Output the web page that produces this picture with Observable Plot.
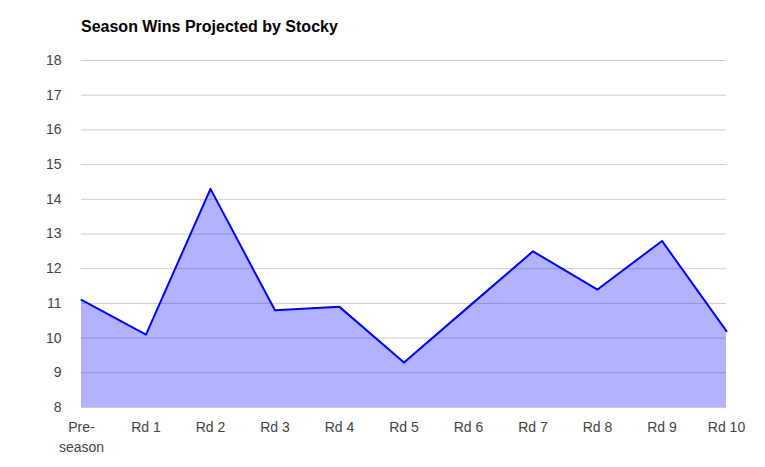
<!DOCTYPE html>
<html>
<head>
<meta charset="utf-8">
<script src="https://cdn.jsdelivr.net/npm/d3@7"></script>
<script src="https://cdn.jsdelivr.net/npm/@observablehq/plot@0.6"></script>
<style>
  html, body { margin: 0; padding: 0; background: #fff; }
  #wrap { position: relative; width: 765px; height: 467px; }
  #title { position: absolute; left: 81px; top: 18px; font: bold 16px "Liberation Sans", Arial, sans-serif; color: #000; }
</style>
</head>
<body>
<div id="wrap">
  <div id="title">Season Wins Projected by Stocky</div>
</div>
<script>
const rounds = ["Pre-\nseason", "Rd 1", "Rd 2", "Rd 3", "Rd 4", "Rd 5", "Rd 6", "Rd 7", "Rd 8", "Rd 9", "Rd 10"];
const wins = [11.1, 10.1, 14.3, 10.8, 10.9, 9.3, 10.9, 12.5, 11.4, 12.8, 10.2];
const yTicks = [8, 9, 10, 11, 12, 13, 14, 15, 16, 17, 18];

const data = rounds.map((r, i) => ({i, round: r, wins: wins[i]}));

const chart = Plot.plot({
  width: 765,
  height: 467,
  marginLeft: 81,
  marginRight: 39,
  marginTop: 60,
  marginBottom: 60,
  style: {fontFamily: "'Liberation Sans', Arial, sans-serif", fontSize: "14px", color: "#444", background: "#fff"},
  x: {domain: [0, rounds.length - 1], label: null},
  y: {domain: [8, 18], label: null},
  marks: [
    Plot.ruleY(yTicks, {stroke: "#cccccc", strokeWidth: 1}),
    Plot.areaY(data, {x: "i", y1: 8, y2: "wins", fill: "#0000ff", fillOpacity: 0.3}),
    Plot.lineY(data, {x: "i", y: "wins", stroke: "#0000ff", strokeWidth: 2}),
    Plot.axisY({ticks: yTicks, tickSize: 0, tickPadding: 20, fontSize: 14, fill: "#444", label: null}),
    Plot.axisX({ticks: d3.range(rounds.length), tickFormat: i => rounds[i], tickSize: 0, tickPadding: 11, fontSize: 14, fill: "#444", label: null, lineHeight: 1.4})
  ]
});
document.getElementById("wrap").appendChild(chart);
</script>
</body>
</html>
